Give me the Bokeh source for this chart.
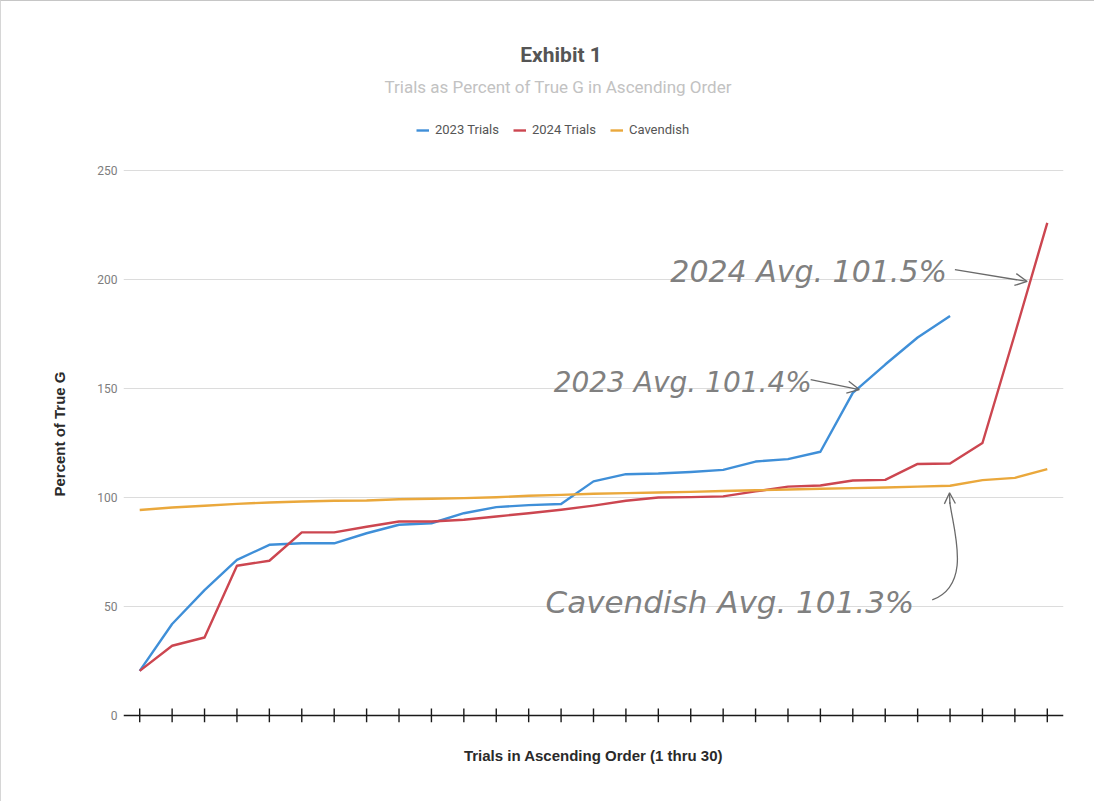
from bokeh.plotting import figure
from bokeh.models import (Label, Legend, LegendItem, Arrow, OpenHead, Title,
                          FixedTicker, Range1d, Span)
from bokeh.embed import file_html
from bokeh.resources import INLINE

# Trials sorted in ascending order, each expressed as percent of true G
trials = list(range(1, 30))
trials_2023 = [20.5, 42, 57.5, 71.4, 78.3, 79, 79, 83.6, 87.5, 88.2,
               92.8, 95.6, 96.5, 97.0, 107.4, 110.7, 111, 111.7, 112.7, 116.5,
               117.6, 121, 148, 161, 173.4, 183.3]
trials_2024 = [20.5, 32, 35.8, 68.7, 71, 84, 84, 86.6, 89, 89,
               89.8, 91.3, 92.8, 94.4, 96.3, 98.5, 100, 100.2, 100.5, 102.8,
               105, 105.5, 107.8, 108.1, 115.4, 115.6, 125, 175, 226]
cavendish = [94.3, 95.4, 96.2, 97.1, 97.7, 98.2, 98.5, 98.6, 99.2, 99.4,
             99.7, 100.1, 100.8, 101.2, 101.7, 102, 102.3, 102.6, 103, 103.3,
             103.7, 104, 104.3, 104.6, 105, 105.4, 108, 109, 113]
y_ticks = [0, 50, 100, 150, 200, 250]

series = [("2023 Trials", trials_2023, "#3f8fd8"),
          ("2024 Trials", trials_2024, "#cc4650"),
          ("Cavendish", cavendish, "#eaa83c")]

# The frame reaches the top of the page so the headings and legend can live
# inside it; grid lines are only drawn for 0..250.
p = figure(width=1094, height=801, output_backend="svg", toolbar_location=None,
           x_range=Range1d(0.5, 29.5), y_range=Range1d(-3.2, 327.52),
           min_border_left=122, min_border_right=32,
           min_border_top=0, min_border_bottom=80, title=None)
p.outline_line_color = None
p.background_fill_color = "white"
p.border_fill_color = "white"
p.styles = {"border-top": "1px solid #c6c6c6",
            "border-left": "1px solid #d6d6d6",
            "box-sizing": "border-box"}

# y axis: numbers only, light grid
p.yaxis.ticker = FixedTicker(ticks=y_ticks)
p.yaxis.axis_line_color = None
p.yaxis.major_tick_line_color = None
p.yaxis.minor_tick_line_color = None
p.yaxis.major_tick_out = 0
p.yaxis.major_tick_in = 0
p.yaxis.major_label_standoff = 6
p.yaxis.major_label_text_color = "#7d7d7d"
p.yaxis.major_label_text_font = "Roboto"
p.yaxis.major_label_text_font_size = "12px"
p.ygrid.grid_line_color = "#dcdcdc"
p.ygrid.grid_line_width = 1
p.ygrid.ticker = FixedTicker(ticks=y_ticks[1:])

# y axis title, starting a little above the baseline
p.add_layout(Title(text="Percent of True G", align="left", offset=226,
                   standoff=54, text_font="Liberation Sans",
                   text_font_style="bold", text_font_size="15px",
                   text_color="#2a2a2a"), "left")

# x axis: only its title; the baseline and per-trial ticks are drawn below
p.xaxis.ticker = FixedTicker(ticks=[])
p.xaxis.axis_line_color = None
p.xaxis.major_tick_line_color = None
p.xaxis.minor_tick_line_color = None
p.xaxis.major_tick_out = 0
p.xaxis.major_tick_in = 0
p.xaxis.major_label_standoff = 0
p.xaxis.axis_label = "Trials in Ascending Order (1 thru 30)"
p.xaxis.axis_label_text_font = "Liberation Sans"
p.xaxis.axis_label_text_font_style = "bold"
p.xaxis.axis_label_text_font_size = "15px"
p.xaxis.axis_label_text_color = "#2a2a2a"
p.xaxis.axis_label_standoff = 24
p.xgrid.grid_line_color = None

p.add_layout(Span(location=0, dimension="width", line_color="#1a1a1a",
                  line_width=1.6))
p.segment(x0=trials, y0=[-3.2] * len(trials), x1=trials,
          y1=[3.2] * len(trials), line_color="#1a1a1a", line_width=1.4)

items = []
for name, vals, color in series:
    r = p.line(trials[:len(vals)], vals, line_color=color, line_width=2.4,
               line_join="round")
    items.append(LegendItem(label=name, renderers=[r]))

legend = Legend(items=items, orientation="horizontal", location=(293, 585),
                label_text_font="Roboto", label_text_font_size="13px",
                label_text_color="#555555", glyph_width=13, glyph_height=10,
                label_standoff=6, spacing=14, padding=0, margin=0,
                border_line_color=None, background_fill_alpha=0)
p.add_layout(legend, "center")

# headings
p.add_layout(Label(x=14.0, y=302.8, text="Exhibit 1", text_align="center",
                   text_baseline="middle", text_font="Roboto",
                   text_font_style="bold", text_font_size="21px",
                   text_color="#555555"))
p.add_layout(Label(x=13.91, y=288.5,
                   text="Trials as Percent of True G in Ascending Order",
                   text_align="center", text_baseline="middle",
                   text_font="Roboto", text_font_size="17px",
                   text_color="#c2c2c2"))

# hand-written averages with arrows
note_style = dict(text_baseline="middle", text_font="DejaVu Sans",
                  text_font_style="italic", text_color="#808080")
p.add_layout(Label(x=17.37, y=203.7, text="2024 Avg. 101.5%",
                   text_font_size="30px", **note_style))
p.add_layout(Label(x=13.77, y=152.8, text="2023 Avg. 101.4%",
                   text_font_size="28px", **note_style))
p.add_layout(Label(x=13.52, y=52.3, text="Cavendish Avg. 101.3%",
                   text_font_size="31px", **note_style))

arrow_kw = dict(line_color="#6a6a6a", line_width=1.3)
p.add_layout(Arrow(x_start=26.15, y_start=204.5, x_end=28.38, y_end=199.1,
                   end=OpenHead(size=12, line_color="#6a6a6a", line_width=1.3),
                   **arrow_kw))
p.add_layout(Arrow(x_start=21.7, y_start=154.1, x_end=23.2, y_end=149.5,
                   end=OpenHead(size=12, line_color="#6a6a6a", line_width=1.3),
                   **arrow_kw))
p.bezier(x0=[25.45], y0=[53.0], x1=[25.99], y1=[98],
         cx0=[26.7], cy0=[60], cx1=[26.1], cy1=[85],
         line_color="#6a6a6a", line_width=1.3)
p.add_layout(Arrow(x_start=25.995, y_start=97, x_end=25.985, y_end=102.2,
                   end=OpenHead(size=11, line_color="#6a6a6a", line_width=1.3),
                   **arrow_kw))

open("out.html", "w").write(file_html(p, INLINE))
